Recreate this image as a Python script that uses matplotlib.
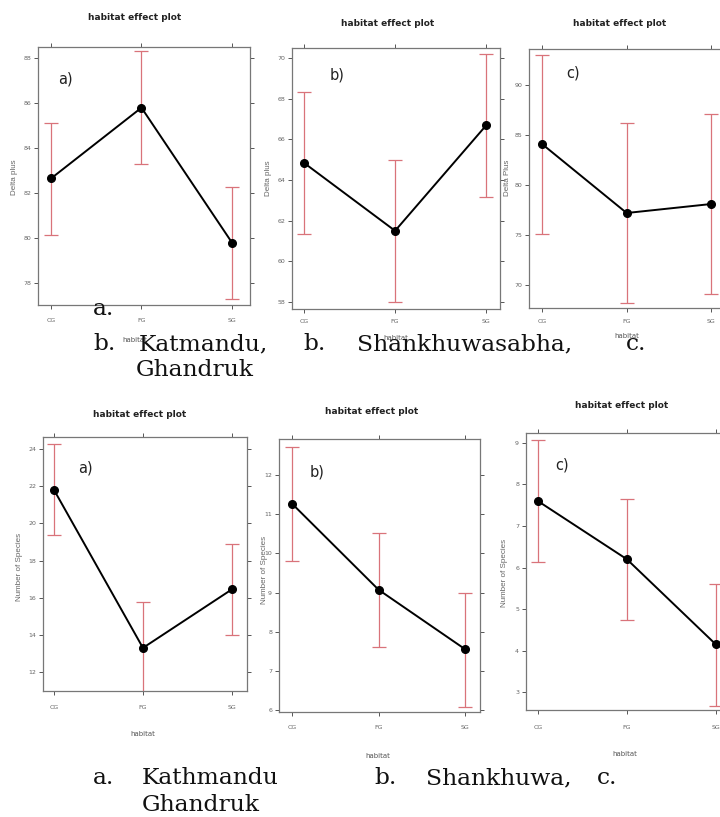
import matplotlib
matplotlib.use("Agg")
import matplotlib.pyplot as plt
from matplotlib import font_manager

W, H = 720, 817

habitats = ["CG", "FG", "SG"]

# Delta plus panels (top row)
dp_a_fit = [82.65, 85.8, 79.8]
dp_a_lo = [80.15, 83.3, 77.3]
dp_a_hi = [85.1, 88.3, 82.25]

dp_b_fit = [64.85, 61.5, 66.7]
dp_b_lo = [61.35, 58.0, 63.15]
dp_b_hi = [68.35, 65.0, 70.2]

dp_c_fit = [84.1, 77.2, 78.1]
dp_c_lo = [75.1, 68.2, 69.1]
dp_c_hi = [93.0, 86.2, 87.1]

# Number of species panels (bottom row)
ns_a_fit = [21.8, 13.3, 16.45]
ns_a_lo = [19.35, 10.85, 14.0]
ns_a_hi = [24.25, 15.75, 18.9]

ns_b_fit = [11.27, 9.07, 7.55]
ns_b_lo = [9.8, 7.6, 6.07]
ns_b_hi = [12.72, 10.53, 9.0]

ns_c_fit = [7.6, 6.2, 4.15]
ns_c_lo = [6.13, 4.73, 2.67]
ns_c_hi = [9.07, 7.65, 5.6]

dp_a_ticks = [78, 80, 82, 84, 86, 88]
dp_b_ticks = [58, 60, 62, 64, 66, 68, 70]
dp_c_ticks = [70, 75, 80, 85, 90]
ns_a_ticks = [12, 14, 16, 18, 20, 22, 24]
ns_b_ticks = [6, 7, 8, 9, 10, 11, 12]
ns_c_ticks = [3, 4, 5, 6, 7, 8, 9]

available = {f.name for f in font_manager.fontManager.ttflist}
narrow = ["Liberation Sans Narrow"] if "Liberation Sans Narrow" in available else []
NARROW = narrow + ["DejaVu Sans"]
SANS = ["Liberation Sans", "DejaVu Sans"]
SERIF = ["DejaVu Serif"]

fig = plt.figure(figsize=(W / 100, H / 100), dpi=100)
fig.patch.set_facecolor("white")

GRAY = "#555555"
RED = "#d9737a"


def px_text(x, y, s, **kw):
    fig.text(x / W, 1 - y / H, s, **kw)


panels = [
    dict(box=(38, 47, 250, 305), fit=dp_a_fit, lo=dp_a_lo, hi=dp_a_hi, ticks=dp_a_ticks,
         ylim=(77.02, 88.5), xlim=(-0.144, 2.2), title=(135, 18), ylab="Delta plus",
         ylabpos=(15, 177), xlab=(135, 340), letter="a)", letpos=(58, 79), pad=6.0),
    dict(box=(292, 48, 500, 309), fit=dp_b_fit, lo=dp_b_lo, hi=dp_b_hi, ticks=dp_b_ticks,
         ylim=(57.65, 70.5), xlim=(-0.13, 2.15), title=(388, 23), ylab="Delta plus",
         ylabpos=(269, 178), xlab=(396, 338), letter="b)", letpos=(330, 75), pad=4.2),
    dict(box=(529, 49, 724, 308), fit=dp_c_fit, lo=dp_c_lo, hi=dp_c_hi, ticks=dp_c_ticks,
         ylim=(67.7, 93.6), xlim=(-0.154, 2.15), title=(620, 23), ylab="Delta Plus",
         ylabpos=(507, 178), xlab=(627, 336), letter="c)", letpos=(566, 73), pad=5.0),
    dict(box=(43, 437, 247, 691), fit=ns_a_fit, lo=ns_a_lo, hi=ns_a_hi, ticks=ns_a_ticks,
         ylim=(10.98, 24.65), xlim=(-0.124, 2.17), title=(140, 415), ylab="Number of Species",
         ylabpos=(20, 567), xlab=(143, 734), letter="a)", letpos=(78, 468), pad=7.0),
    dict(box=(279, 439, 480, 712), fit=ns_b_fit, lo=ns_b_lo, hi=ns_b_hi, ticks=ns_b_ticks,
         ylim=(5.95, 12.92), xlim=(-0.15, 2.17), title=(372, 412), ylab="Number of Species",
         ylabpos=(265, 570), xlab=(378, 756), letter="b)", letpos=(310, 472), pad=6.3),
    dict(box=(526, 433, 730, 710), fit=ns_c_fit, lo=ns_c_lo, hi=ns_c_hi, ticks=ns_c_ticks,
         ylim=(2.57, 9.24), xlim=(-0.135, 2.16), title=(622, 405), ylab="Number of Species",
         ylabpos=(505, 573), xlab=(625, 754), letter="c)", letpos=(555, 465), pad=7.5),
]

for p in panels:
    l, t, r, b = p["box"]
    ax = fig.add_axes([l / W, 1 - b / H, (r - l) / W, (b - t) / H])
    x = list(range(len(habitats)))
    yerr = [[f - lo for f, lo in zip(p["fit"], p["lo"])],
            [hi - f for f, hi in zip(p["fit"], p["hi"])]]
    ax.errorbar(x, p["fit"], yerr=yerr, fmt="none", ecolor=RED, elinewidth=0.9,
                capsize=5, capthick=0.9, zorder=2)
    ax.plot(x, p["fit"], color="black", lw=1.4, marker="o", markersize=5.5, zorder=3)
    ax.set_xlim(*p["xlim"])
    ax.set_ylim(*p["ylim"])
    ax.set_xticks(x)
    ax.set_xticklabels(habitats)
    ax.set_yticks(p["ticks"])
    ax.set_yticklabels([str(v) for v in p["ticks"]])
    ax.tick_params(axis="both", which="both", direction="out", length=3, width=0.7,
                   colors=GRAY, labelsize=4.5, top=True, right=True)
    ax.tick_params(axis="x", pad=p["pad"])
    ax.tick_params(axis="y", pad=2)
    for lab in ax.get_xticklabels() + ax.get_yticklabels():
        lab.set_family(NARROW)
        lab.set_color("#666666")
    for s in ax.spines.values():
        s.set_color("#777777")
        s.set_linewidth(0.9)
    px_text(p["title"][0], p["title"][1], "habitat effect plot", ha="center", va="center",
            fontsize=6.5, fontweight="bold", family=NARROW, color="#222222")
    px_text(p["ylabpos"][0], p["ylabpos"][1], p["ylab"], ha="center", va="center",
            rotation=90, fontsize=5.8, family=SANS, color="#666666")
    px_text(p["xlab"][0], p["xlab"][1], "habitat", ha="center", va="center",
            fontsize=5, family=NARROW, color="#555555")
    px_text(p["letpos"][0], p["letpos"][1], p["letter"], ha="left", va="center",
            fontsize=10.5, family=NARROW, color="#222222")

# Overlaid caption text (serif)
cap = dict(fontsize=16.8, family=SERIF, color="#111111", va="baseline", ha="left")
px_text(93, 315, "a.", **cap)
px_text(93, 350, "b.", **cap)
px_text(139, 350, "Katmandu,", **cap)
px_text(303, 350, "b.", **cap)
px_text(357, 350, "Shankhuwasabha,", **cap)
px_text(626, 350, "c.", **cap)
px_text(136, 376, "Ghandruk", **cap)

px_text(93, 784, "a.", **cap)
px_text(142, 784, "Kathmandu", **cap)
px_text(374, 784, "b.", **cap)
px_text(426, 784, "Shankhuwa,", **cap)
px_text(597, 784, "c.", **cap)
px_text(142, 811, "Ghandruk", **cap)

fig.savefig("out.png", dpi=100)
